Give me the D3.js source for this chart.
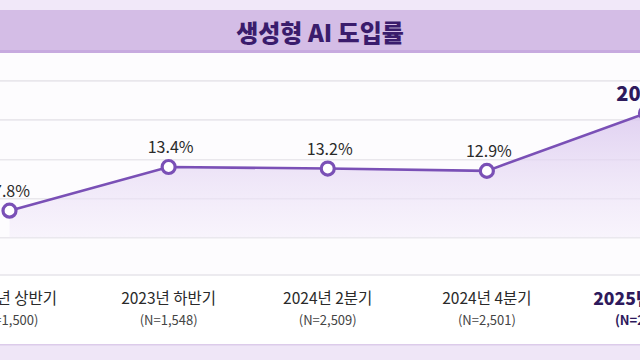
<!DOCTYPE html>
<html><head><meta charset="utf-8">
<script src="https://cdn.jsdelivr.net/npm/d3@7"></script>
<style>body{margin:0;background:#fff}svg{display:block}</style>
</head><body>
<script>
const categories = ["2023년 상반기","2023년 하반기","2024년 2분기","2024년 4분기","2025년 1분기"];
const samples = ["(N=1,500)","(N=1,548)","(N=2,509)","(N=2,501)","(N=2,517)"];
const values = [7.8, 13.4, 13.2, 12.9, 20.3];
const gridTicks = [4.4, 9.4, 14.4, 19.5, 24.5];
const title = "생성형 AI 도입률";

const W = 640, H = 360;
const svg = d3.select("body").append("svg").attr("width", W).attr("height", H);
const font = "'Noto Sans CJK KR','Noto Sans',sans-serif";

// backgrounds
svg.append("rect").attr("x",0).attr("y",0).attr("width",W).attr("height",10).attr("fill","#f1e8f9");
svg.append("rect").attr("x",0).attr("y",10).attr("width",W).attr("height",41).attr("fill","#d4bde6");
svg.append("rect").attr("x",0).attr("y",50).attr("width",W).attr("height",3).attr("fill","#c7aadf");
svg.append("rect").attr("x",0).attr("y",53).attr("width",W).attr("height",222).attr("fill","#fdfcfe");
svg.append("rect").attr("x",0).attr("y",345).attr("width",W).attr("height",15).attr("fill","#efe6f7");
svg.append("rect").attr("x",0).attr("y",344).attr("width",W).attr("height",1.5).attr("fill","#dccbea");

svg.append("text").attr("x",320).attr("y",31).attr("text-anchor","middle")
  .attr("dominant-baseline","central").attr("font-family",font).attr("font-weight",900)
  .attr("font-size",24).attr("fill","#3a1c6c").text(title);

const x = d3.scalePoint().domain(categories).range([9.5, 646]);
const y = d3.scaleLinear().domain([0, 25]).range([271.5, 76.5]);

// gridlines
const gAxis = svg.append("g")
  .call(d3.axisLeft(y).tickValues(gridTicks).tickSize(-W).tickFormat(""));
gAxis.select(".domain").remove();
gAxis.selectAll("line").attr("stroke","#e9e7ec").attr("stroke-width",1.6);
svg.append("line").attr("x1",0).attr("x2",W).attr("y1",275).attr("y2",275)
  .attr("stroke","#e6e4ea").attr("stroke-width",1.5);

// area gradient
const defs = svg.append("defs");
const grad = defs.append("linearGradient").attr("id","ag").attr("x1",0).attr("x2",0).attr("y1",0).attr("y2",1);
grad.append("stop").attr("offset","0%").attr("stop-color","#d9c6ee").attr("stop-opacity",0.8);
grad.append("stop").attr("offset","100%").attr("stop-color","#f3ecfa").attr("stop-opacity",0.5);

const area = d3.area().x((d,i)=>x(categories[i])).y0(y(gridTicks[0])).y1(d=>y(d));
svg.append("path").datum(values).attr("d",area).attr("fill","url(#ag)");

const line = d3.line().x((d,i)=>x(categories[i])).y(d=>y(d));
svg.append("path").datum(values).attr("d",line).attr("fill","none")
  .attr("stroke","#7a50b6").attr("stroke-width",2.6);

svg.selectAll("circle.pt").data(values).join("circle").attr("class","pt")
  .attr("cx",(d,i)=>x(categories[i])).attr("cy",d=>y(d)).attr("r",6.5)
  .attr("fill","#fff").attr("stroke","#7a50b6").attr("stroke-width",3.2);

const last = values.length - 1;
svg.selectAll("text.val").data(values).join("text").attr("class","val")
  .attr("x",(d,i)=>x(categories[i])+2).attr("y",d=>y(d)-21)
  .attr("text-anchor","middle").attr("dominant-baseline","central")
  .attr("font-family",font)
  .attr("font-size",(d,i)=>i===last?20:16)
  .attr("font-weight",(d,i)=>i===last?800:400)
  .attr("fill",(d,i)=>i===last?"#2e1a5c":"#2a2a2a")
  .text(d=>d.toFixed(1)+"%");

svg.selectAll("text.cat").data(categories).join("text").attr("class","cat")
  .attr("x",d=>x(d)).attr("y",297)
  .attr("text-anchor","middle").attr("dominant-baseline","central")
  .attr("font-family",font)
  .attr("font-size",(d,i)=>i===last?17.5:15.5)
  .attr("font-weight",(d,i)=>i===last?800:400)
  .attr("fill",(d,i)=>i===last?"#2e1a5c":"#2a2a2a")
  .text(d=>d);

svg.selectAll("text.n").data(samples).join("text").attr("class","n")
  .attr("x",(d,i)=>x(categories[i])).attr("y",319)
  .attr("text-anchor","middle").attr("dominant-baseline","central")
  .attr("font-family",font)
  .attr("font-size",13)
  .attr("font-weight",(d,i)=>i===last?700:400)
  .attr("fill",(d,i)=>i===last?"#2e1a5c":"#444")
  .text(d=>d);
</script>
</body></html>
